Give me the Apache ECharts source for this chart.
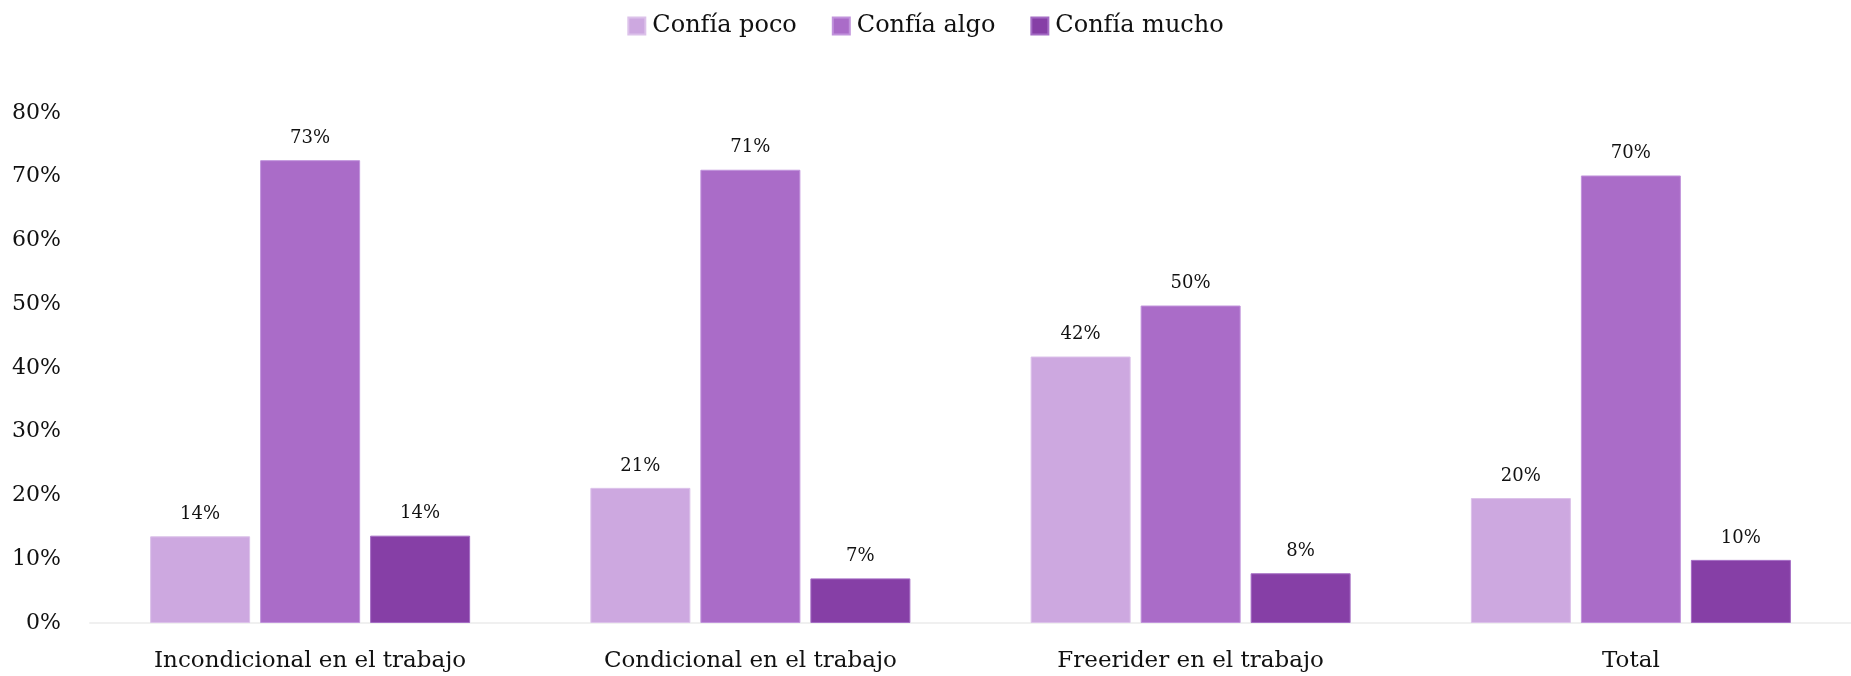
<!DOCTYPE html>
<html>
<head>
<meta charset="utf-8">
<script src="https://cdn.jsdelivr.net/npm/echarts@6/dist/echarts.min.js"></script>
<style>
  html, body { margin: 0; padding: 0; background: #fff; }
  #chart { width: 1851px; height: 676px; }
</style>
</head>
<body>
<div id="chart"></div>
<script>
const categories = ['Incondicional en el trabajo', 'Condicional en el trabajo', 'Freerider en el trabajo', 'Total'];
const seriesNames = ['Confía poco', 'Confía algo', 'Confía mucho'];
const confiaPoco = [13.6, 21.2, 41.8, 19.6];
const confiaAlgo = [72.6, 71.1, 49.8, 70.2];
const confiaMucho = [13.7, 7.0, 7.8, 9.9];
const yTicks = [0, 10, 20, 30, 40, 50, 60, 70, 80];

const colors = ['#cda8e0', '#aa6cc8', '#863fa6'];
const borders = ['#dcc2ea', '#c193dc', '#a46cc4'];
const font = '"DejaVu Serif", "Liberation Serif", serif';

const chart = echarts.init(document.getElementById('chart'));

const makeSeries = (name, data, i) => ({
  name: name,
  type: 'bar',
  data: data,
  barWidth: 100,
  barGap: '10%',
  itemStyle: { color: colors[i], borderColor: borders[i], borderWidth: 1 },
  label: {
    show: true,
    position: 'top',
    distance: 13,
    color: '#111',
    fontFamily: font,
    fontSize: 18,
    formatter: p => Math.round(p.value) + '%'
  }
});

const option = {
  animation: false,
  color: colors,
  legend: {
    top: 9,
    left: 'center',
    itemWidth: 17,
    itemHeight: 17,
    itemGap: 35,
    icon: 'rect',
    textStyle: { fontFamily: font, fontSize: 24, color: '#111', padding: [0, 0, 0, 2] },
    data: seriesNames
  },
  grid: { left: 90, right: -7, top: 113, bottom: 53 },
  xAxis: {
    type: 'category',
    data: categories,
    axisLine: { lineStyle: { color: '#f0f0f0', width: 2 } },
    axisTick: { show: false },
    axisLabel: { margin: 27, fontFamily: font, fontSize: 23, color: '#111' }
  },
  yAxis: {
    type: 'value',
    min: yTicks[0],
    max: yTicks[yTicks.length - 1],
    interval: 10,
    splitLine: { show: false },
    axisLine: { show: false },
    axisTick: { show: false },
    axisLabel: { margin: 29, fontFamily: font, fontSize: 22, color: '#111', formatter: '{value}%' }
  },
  series: [
    makeSeries(seriesNames[0], confiaPoco, 0),
    makeSeries(seriesNames[1], confiaAlgo, 1),
    makeSeries(seriesNames[2], confiaMucho, 2)
  ]
};

chart.setOption(option);
window.addEventListener('resize', () => chart.resize());
</script>
</body>
</html>
